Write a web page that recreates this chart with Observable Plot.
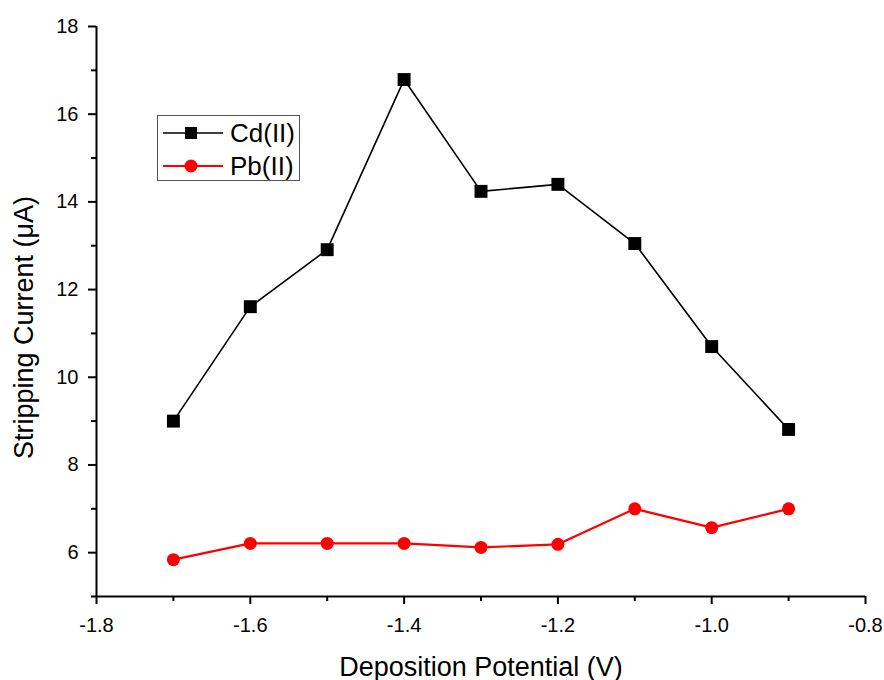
<!DOCTYPE html>
<html>
<head>
<meta charset="utf-8">
<script src="https://cdn.jsdelivr.net/npm/d3@7"></script>
<script src="https://cdn.jsdelivr.net/npm/@observablehq/plot@0.6"></script>
<style>
  body { margin: 0; background: #fff; }
  #chart { position: relative; width: 884px; height: 680px; font-family: "Liberation Sans", Arial, sans-serif; }
  #legend {
    position: absolute; left: 157px; top: 115px; width: 141px; height: 64px;
    border: 1px solid #555; background: #fff;
  }
  #legend .row { position: absolute; left: 0; height: 30px; display: flex; align-items: center; }
  #legend .row span { font-size: 26px; margin-left: 6px; color: #000; }
</style>
</head>
<body>
<div id="chart"></div>
<script>
// Deposition potential (V) and peak stripping currents (µA)
const potentials = [-1.7, -1.6, -1.5, -1.4, -1.3, -1.2, -1.1, -1.0, -0.9];
const cdCurrent = [9.0, 11.61, 12.91, 16.79, 14.24, 14.40, 13.05, 10.70, 8.81];
const pbCurrent = [5.84, 6.21, 6.21, 6.21, 6.12, 6.19, 7.0, 6.57, 7.0];

const seriesNames = ["Cd(II)", "Pb(II)"];
const seriesColors = ["#000000", "#ff0000"];

const xMajor = [-1.8, -1.6, -1.4, -1.2, -1.0, -0.8];
const xMinor = [-1.7, -1.5, -1.3, -1.1, -0.9];
const yMajor = [6, 8, 10, 12, 14, 16, 18];
const yMinor = [5, 7, 9, 11, 13, 15, 17];

const cd = potentials.map((v, i) => ({v, i: cdCurrent[i]}));
const pb = potentials.map((v, i) => ({v, i: pbCurrent[i]}));

const plot = Plot.plot({
  width: 884,
  height: 680,
  marginLeft: 96,
  marginRight: 19,
  marginTop: 26,
  marginBottom: 84,
  x: {domain: [-1.8, -0.8]},
  y: {domain: [5, 18]},
  style: {fontFamily: "'Liberation Sans', Arial, sans-serif", fontSize: "20px", color: "#000", background: "#fff"},
  marks: [
    Plot.axisX(xMajor, {tickSize: 8, tickPadding: 13, strokeWidth: 2, tickFormat: d => d.toFixed(1), label: null, fontSize: 20}),
    Plot.axisX(xMinor, {tickSize: 5, strokeWidth: 2, tickFormat: () => "", label: null}),
    Plot.axisY(yMajor, {tickSize: 8, tickPadding: 10, strokeWidth: 2, tickFormat: d => String(d), label: null, fontSize: 20}),
    Plot.axisY(yMinor, {tickSize: 5, strokeWidth: 2, tickFormat: () => "", label: null}),
    Plot.ruleX([-1.8], {strokeWidth: 2}),
    Plot.ruleY([5], {strokeWidth: 2}),
    Plot.text(["Deposition Potential (V)"], {frameAnchor: "bottom", textAnchor: "middle", lineAnchor: "bottom", dy: 79, fontSize: 27}),
    Plot.text(["Stripping Current (\u03bcA)"], {frameAnchor: "left", textAnchor: "middle", lineAnchor: "bottom", rotate: -90, dx: -64, dy: 16, fontSize: 27}),
    Plot.line(cd, {x: "v", y: "i", stroke: seriesColors[0], strokeWidth: 1.6}),
    Plot.dot(cd, {x: "v", y: "i", symbol: "square", r: 7.3, fill: seriesColors[0], stroke: "none"}),
    Plot.line(pb, {x: "v", y: "i", stroke: seriesColors[1], strokeWidth: 2.2}),
    Plot.dot(pb, {x: "v", y: "i", symbol: "circle", r: 6.5, fill: seriesColors[1], stroke: "none"})
  ]
});

const chart = document.getElementById("chart");
chart.appendChild(plot);

// Legend box with line + marker samples
const legend = document.createElement("div");
legend.id = "legend";
seriesNames.forEach((name, k) => {
  const row = document.createElement("div");
  row.className = "row";
  row.style.top = (2 + k * 33) + "px";
  const marker = k === 0
    ? `<rect x="27" y="9" width="12" height="12" fill="${seriesColors[k]}"/>`
    : `<circle cx="33" cy="15" r="6.5" fill="${seriesColors[k]}"/>`;
  row.innerHTML =
    `<svg width="66" height="30" style="display:block"><line x1="5" y1="15" x2="65" y2="15" stroke="${seriesColors[k]}" stroke-width="${k === 0 ? 1.6 : 2.2}"/>${marker}</svg>` +
    `<span>${name}</span>`;
  legend.appendChild(row);
});
chart.appendChild(legend);
</script>
</body>
</html>
